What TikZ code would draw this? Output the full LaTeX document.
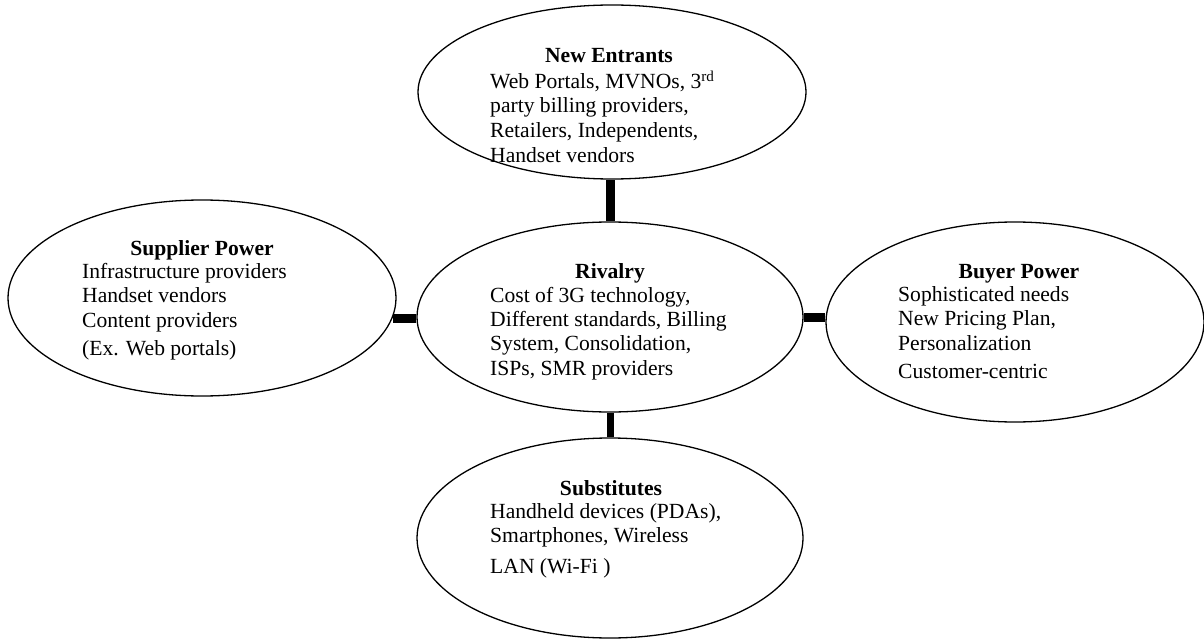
\documentclass[tikz,border=0pt]{standalone}
\usepackage{fontspec}
\setmainfont{Liberation Serif}
\usetikzlibrary{shapes.geometric}
\begin{document}
\begin{tikzpicture}
  [x=1pt,y=-1pt,
   force/.style={ellipse,draw,line width=1.3pt,inner sep=0pt},
   title/.style={font=\fontsize{21.6}{24}\selectfont\bfseries,anchor=base,inner sep=0pt},
   items/.style={font=\fontsize{21.6}{24.3}\selectfont,align=left,anchor=base west,inner sep=0pt},
   bar/.style={line width=9pt}]
  \useasboundingbox (0,0) rectangle (1204,639);

  \node (entrants) at (612,92) [force,minimum width=388pt,minimum height=174pt] {};
  \node (rivalry) at (610,317) [force,minimum width=386pt,minimum height=190pt] {};
  \node (supplier) at (202,298) [force,minimum width=388pt,minimum height=196pt] {};
  \node (buyer) at (1015,322) [force,minimum width=378pt,minimum height=200pt] {};
  \node (subst) at (610,538) [force,minimum width=386pt,minimum height=200pt] {};

  % titles on the centre line, items flush left (anchored on their last line)
  \node (entrants-t) at (609,63) [title] {New Entrants};
  \node (entrants-i) at (490,163) [items]
    {Web Portals, MVNOs, 3\textsuperscript{rd}\\ party billing providers,\\
     Retailers, Independents,\\[1.5pt] Handset vendors};

  \node (rivalry-t) at (610,278) [title] {Rivalry};
  \node (rivalry-i) at (490,375) [items]
    {Cost of 3G technology,\\ Different standards, Billing\\
     System, Consolidation,\\ ISPs, SMR providers};

  \node (supplier-t) at (202,255) [title] {Supplier Power};
  \node (supplier-i) at (82,355) [items]
    {Infrastructure providers\\ Handset vendors\\
     Content providers\\[3.5pt] (Ex. Web portals)};

  \node (buyer-t) at (1019,278) [title] {Buyer Power};
  \node (buyer-i) at (898,378) [items]
    {Sophisticated needs\\ New Pricing Plan,\\
     Personalization\\[3.5pt] Customer-centric};

  \node (subst-t) at (611,495) [title] {Substitutes};
  \node (subst-i) at (490,573) [items]
    {Handheld devices (PDAs),\\ Smartphones, Wireless\\[6pt] LAN (Wi-Fi )};

  \draw [bar] (rivalry.north) -- (rivalry.north |- entrants.south);
  \draw [bar] (supplier.-6) -- (supplier.-6 -| rivalry.west);
  \draw [bar] (rivalry.east) -- (rivalry.east -| buyer.west);
  \draw [bar,line width=7pt] (rivalry.south) -- (subst.north);
\end{tikzpicture}
\end{document}
